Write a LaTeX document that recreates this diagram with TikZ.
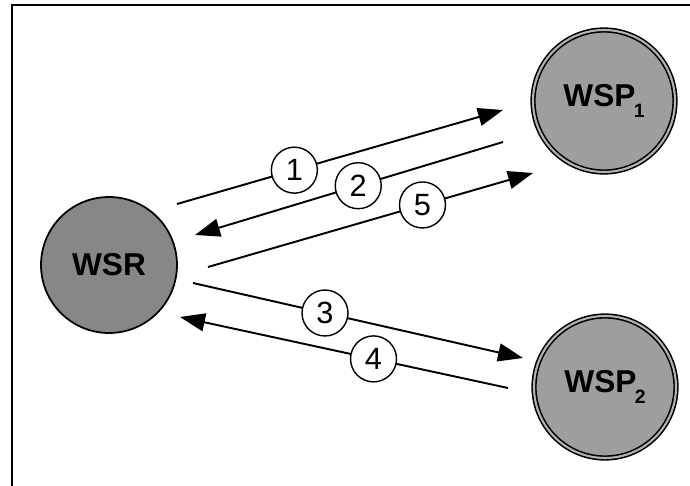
\documentclass[tikz,border=0pt]{standalone}
\usepackage{fontspec}
\setmainfont{Liberation Sans}
\usetikzlibrary{arrows.meta}
\begin{document}
\begin{tikzpicture}[x=0.02cm,y=-0.02cm,
        service/.style={circle, draw, line width=1pt, fill=black!47, minimum size=2.72cm,
                        font=\fontsize{18}{18}\selectfont\bfseries},
        provider/.style={service, fill=black!38, minimum size=2.84cm,
                         double=black!30, double distance=1.2pt, line width=0.9pt},
        num/.style={circle, draw, fill=white, line width=0.8pt, minimum size=0.92cm,
                    inner sep=0pt, font=\fontsize{17.5}{17.5}\selectfont},
        msg/.style={line width=1.1pt, -{Triangle[length=0.5cm,width=0.36cm]}}]
    \useasboundingbox (0,0) rectangle (690,486);
    \draw[line width=1.1pt] (12,500) -- (12,5) -- (700,5);
    % requester and providers
    \node[service]  (wsr)  at (109,265) {WSR};
    \node[provider] (wsp1) at (604,101) {WSP\kern-1pt\raisebox{-6pt}{\fontsize{11}{11}\selectfont 1}};
    \node[provider] (wsp2) at (605,387) {WSP\kern-1pt\raisebox{-6pt}{\fontsize{11}{11}\selectfont 2}};
    % message ends
    \coordinate (a1) at (177,204); \coordinate (b1) at (503,110);
    \coordinate (a2) at (503,142); \coordinate (b2) at (195,235);
    \coordinate (a5) at (208,267); \coordinate (b5) at (533,173);
    \coordinate (a3) at (193,283); \coordinate (b3) at (523,358);
    \coordinate (a4) at (508,388); \coordinate (b4) at (180,317);
    % messages
    \draw[msg] (a1) -- node[num, pos=0.36] (m1) {1} (b1);
    \draw[msg] (a2) -- node[num, pos=0.47] (m2) {2} (b2);
    \draw[msg] (a5) -- node[num, pos=0.66] (m5) {5} (b5);
    \draw[msg] (a3) -- node[num, pos=0.40] (m3) {3} (b3);
    \draw[msg] (a4) -- node[num, pos=0.41] (m4) {4} (b4);
\end{tikzpicture}
\end{document}
